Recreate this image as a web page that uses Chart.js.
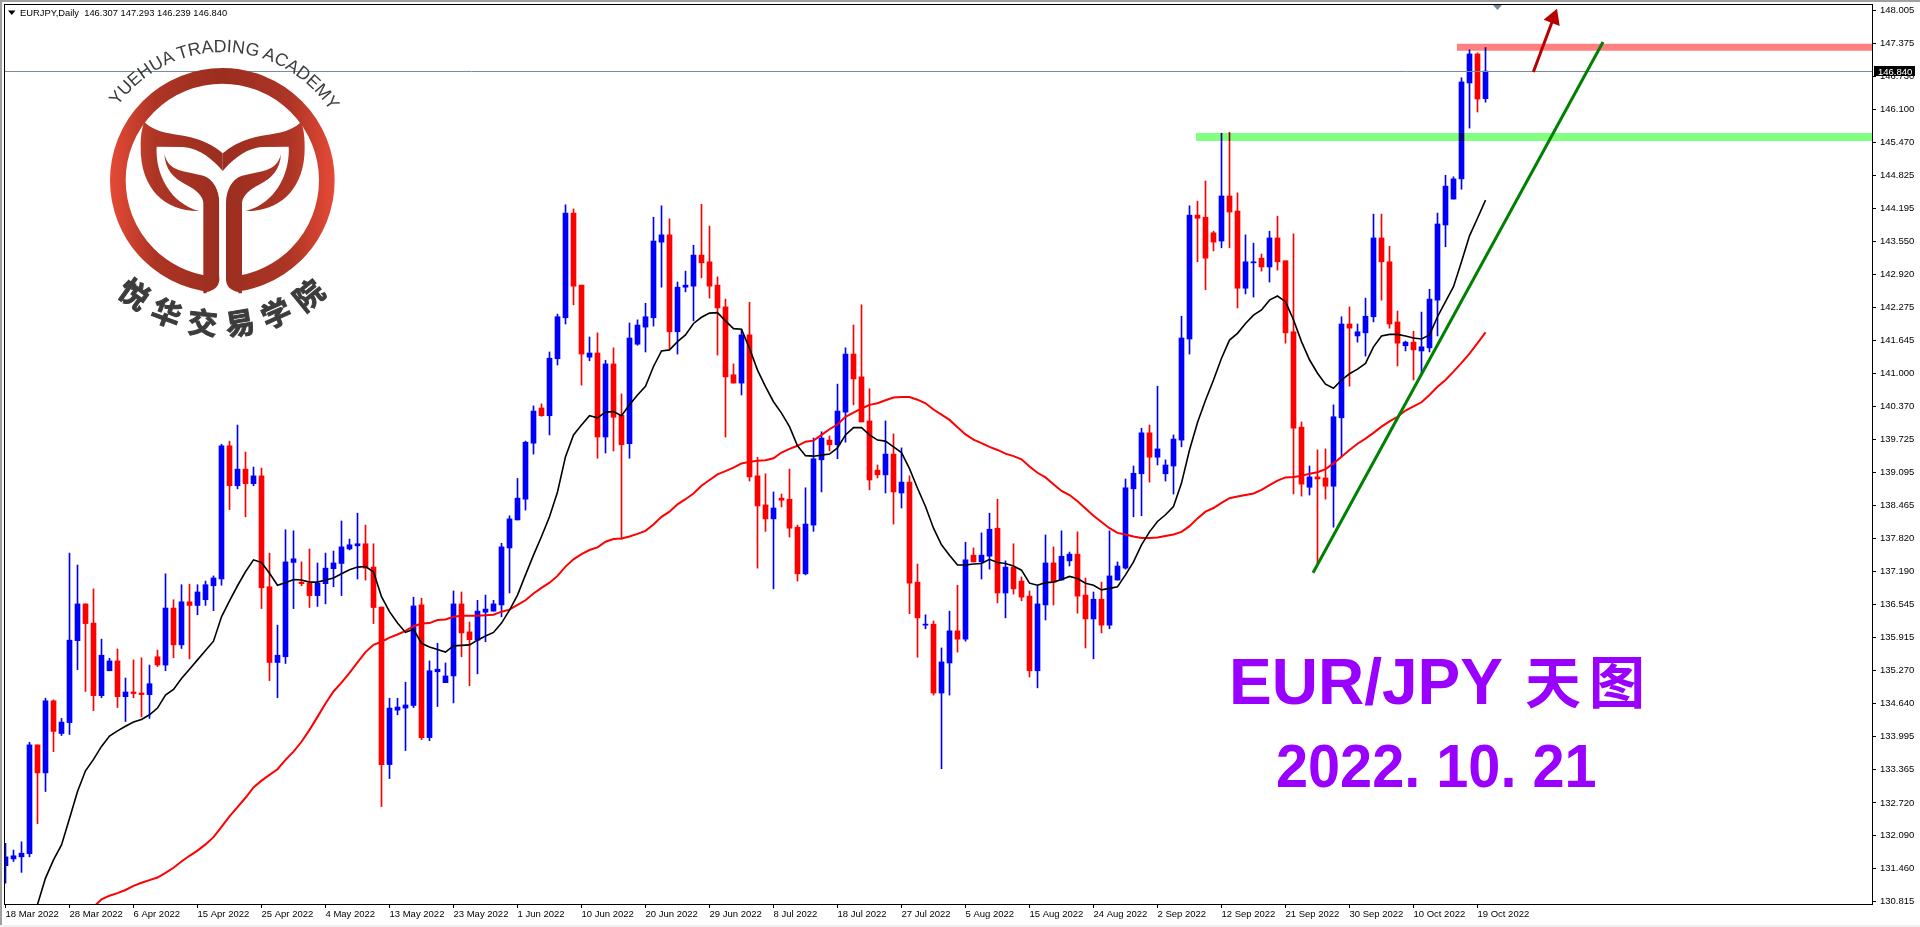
<!DOCTYPE html>
<html>
<head>
<meta charset="utf-8">
<title>EUR/JPY Daily</title>
<script src="https://cdn.jsdelivr.net/npm/chart.js@4"></script>
<style>
html, body { margin:0; padding:0; background:#fff; width:1920px; height:927px; overflow:hidden; }
#chart { position:absolute; left:0; top:0; }
#logo { position:absolute; left:0; top:0; pointer-events:none; }
.edge { position:absolute; background:#a0a0a0; }
</style>
</head>
<body>
<canvas id="chart" width="1920" height="927"></canvas>

<svg id="logo" width="1920" height="927" viewBox="0 0 5760 2781">
  <defs>
    <linearGradient id="ringFill" gradientUnits="userSpaceOnUse" x1="330" y1="0" x2="1004" y2="0">
      <stop offset="0" stop-color="#e64a36"/>
      <stop offset="0.2" stop-color="#ad3525"/>
      <stop offset="0.5" stop-color="#9b2e20"/>
      <stop offset="0.8" stop-color="#ad3525"/>
      <stop offset="1" stop-color="#e64a36"/>
    </linearGradient>
    <path id="arcTop" d="M282,541 A385,385 0 0 1 1052,541"/>
    <path id="arcBottom" d="M203,541 A464,464 0 0 0 1131,541"/>
    <g id="wing">
      <path d="M433,367 C470,400 520,402 555,408 C610,418 645,440 668,460 L668,513 C640,480 600,445 550,441 L470,440 C465,520 510,610 598,633 C500,635 420,570 422,440 C422,410 425,385 433,367 Z"/>
      <path d="M493,460 C500,500 530,512 570,518 L610,527 C640,537 658,570 658,610 L658,880 L610,880 L610,610 C610,590 590,570 560,555 C520,535 495,510 493,460 Z"/>
    </g>
  </defs>
  <circle cx="667" cy="541" r="313.5" fill="none" stroke="url(#ringFill)" stroke-width="47"/>
  <g fill="url(#ringFill)">
    <use href="#wing"/>
    <use href="#wing" transform="translate(1336,0) scale(-1,1)"/>
  </g>
  <path d="M658,600 L678,600 L678,840 C680,862 695,872 715,876 L715,900 L620,900 L620,876 C640,872 656,862 658,840 Z" fill="#fff"/>
  <text font-family="Liberation Sans" font-size="53.5" fill="#3c3c3c" text-anchor="middle"><textPath href="#arcTop" startOffset="50.75%">YUEHUA TRADING ACADEMY</textPath></text>
  <text font-family="Noto Sans CJK SC" font-weight="700" font-size="88" letter-spacing="33" fill="#3c3c3c" stroke="#3c3c3c" stroke-width="3" text-anchor="middle"><textPath href="#arcBottom" startOffset="51%">悦华交易学院</textPath></text>
</svg>

<div class="edge" style="left:0;top:0;width:2px;height:927px"></div>
<div class="edge" style="left:0;top:0;width:1920px;height:2px"></div>
<div class="edge" style="left:0;top:925px;width:1920px;height:2px;background:#f0f0f0"></div>

<script>
// candles
const opens = [
131.51,131.64,131.68,131.74,133.84,133.30,134.69,134.06,134.27,135.85,
136.56,136.19,134.79,135.27,135.46,134.77,134.86,134.84,134.81,135.54,
135.38,136.48,135.77,136.60,136.53,136.64,136.91,137.04,139.61,138.84,
139.16,138.88,139.03,136.89,135.43,135.54,137.36,136.98,136.96,136.72,
136.95,137.24,137.34,137.62,137.68,137.72,137.27,136.50,133.46,134.51,
134.55,134.60,136.54,133.98,135.25,135.04,135.17,136.56,136.02,135.86,
136.40,136.42,136.54,137.64,138.18,138.58,139.66,140.34,140.19,141.29,
142.08,144.10,142.71,141.32,141.40,139.78,141.19,140.20,139.65,141.57,
141.90,142.08,143.54,143.68,141.81,142.67,142.69,143.29,143.16,142.71,
142.29,140.98,140.82,141.75,139.03,138.47,138.20,138.60,138.58,138.04,
137.14,138.08,139.34,139.72,139.63,140.26,141.38,140.94,140.09,139.14,
139.05,139.45,138.70,138.91,136.98,136.15,136.17,134.84,135.42,136.04,
135.88,137.50,137.37,137.48,138.02,136.77,137.27,137.00,136.71,135.27,
136.54,137.35,137.02,137.39,137.52,136.73,136.27,136.65,136.15,137.02,
137.25,138.78,139.07,139.86,139.39,139.07,139.22,139.72,141.67,144.06,
144.02,143.72,143.56,144.43,144.14,142.65,143.14,143.23,143.06,143.62,
143.18,141.81,139.97,138.81,139.01,138.99,138.83,140.15,141.96,141.73,
141.79,142.10,143.62,143.16,142.00,141.54,141.61,141.44,141.50,142.42,
143.87,144.37,144.76,146.61,147.17,146.307];
const highs = [
131.94,131.81,131.97,133.89,133.84,134.74,134.71,134.35,137.54,137.31,
136.56,136.85,135.88,135.51,135.69,135.13,135.48,135.52,135.38,135.67,
137.14,136.64,136.93,136.94,136.93,137.00,137.10,139.64,139.70,140.01,
139.49,139.20,139.18,137.54,136.15,137.99,137.97,137.37,137.62,137.35,
137.54,137.58,138.16,137.81,138.31,138.08,137.72,136.50,134.74,134.74,
135.05,136.69,136.67,135.46,135.80,135.42,136.81,136.79,136.21,136.63,
136.73,136.63,137.73,138.26,138.98,139.70,140.38,140.42,141.42,142.15,
144.26,144.18,142.71,141.71,141.79,141.26,141.50,140.61,141.98,142.04,
142.36,144.02,144.24,143.99,142.77,142.98,143.48,144.27,143.85,142.87,
142.44,141.19,141.86,142.38,139.39,139.07,138.72,138.68,139.16,138.08,
138.80,139.76,139.88,139.80,140.80,141.50,141.94,142.33,140.71,139.24,
140.09,139.84,139.57,139.03,137.33,136.35,136.23,135.71,136.42,136.92,
137.75,137.64,137.93,138.31,138.58,137.39,137.72,137.08,136.81,136.92,
137.89,137.66,137.97,137.56,137.95,137.06,136.79,136.98,137.97,137.37,
138.97,139.22,139.95,140.01,140.76,139.34,139.82,142.11,144.24,144.33,
144.72,143.75,145.64,145.66,144.49,143.68,143.52,143.31,143.75,144.04,
143.18,143.70,140.07,139.22,139.53,139.55,140.40,142.10,142.29,141.96,
142.46,144.08,144.08,143.46,142.21,141.63,141.82,142.19,142.63,144.10,
144.83,144.80,146.71,147.25,147.19,147.293];
const lows = [
131.17,131.59,131.38,131.68,132.32,132.94,133.71,134.02,134.04,135.29,
134.87,134.50,134.75,135.27,134.56,134.29,134.75,134.38,134.35,135.35,
135.27,135.52,135.70,135.50,136.35,136.53,136.43,136.92,138.38,138.78,
138.24,138.84,136.47,135.08,134.75,135.41,136.47,136.91,136.49,136.51,
136.56,136.89,136.72,137.60,137.04,137.02,136.18,132.65,133.19,134.42,
133.73,134.56,133.94,133.92,134.58,135.04,134.65,135.54,134.98,135.21,
135.83,136.42,136.31,136.77,138.18,138.37,139.45,140.18,139.82,141.17,
141.96,142.33,140.78,141.25,139.37,139.47,139.51,137.81,139.37,141.55,
141.42,141.92,142.67,141.48,141.38,142.58,142.02,142.85,142.46,141.36,
139.78,140.82,140.59,138.93,137.25,137.96,136.85,138.43,137.85,137.00,
137.12,137.96,138.72,139.51,139.36,139.68,140.40,140.07,138.76,138.99,
138.70,138.10,138.41,136.37,135.53,136.08,134.80,133.38,134.80,135.63,
135.84,137.37,137.04,137.23,136.58,136.29,136.75,136.62,135.15,134.94,
136.25,136.54,137.02,137.29,136.38,135.71,135.50,136.00,136.08,137.02,
137.23,138.24,138.26,138.91,139.24,138.93,138.68,139.59,141.38,143.16,
142.62,143.37,143.43,143.43,142.27,142.54,142.48,142.98,142.77,143.00,
141.59,138.68,138.64,138.66,137.31,138.58,138.04,139.39,140.76,141.61,
141.34,142.00,142.42,141.88,141.15,141.44,140.88,140.98,141.42,141.73,
143.45,144.37,144.56,145.74,146.05,146.239];
const closes = [
131.68,131.70,131.75,133.84,133.30,134.69,134.10,134.28,135.86,136.56,
136.18,134.79,135.57,135.46,134.77,134.86,134.83,134.81,135.02,135.38,
136.48,135.77,136.60,136.53,136.79,136.93,137.06,139.61,138.84,139.16,
138.88,139.03,136.87,135.43,135.57,137.37,137.43,136.95,136.72,136.96,
137.25,137.35,137.66,137.70,137.72,137.25,136.49,133.46,134.55,134.57,
134.61,136.52,133.98,135.27,135.30,135.17,136.56,136.00,135.87,136.42,
136.46,136.56,137.66,138.20,138.60,139.68,140.28,140.19,141.30,142.10,
144.10,142.69,141.38,141.40,139.78,141.19,140.16,139.63,141.69,141.94,
142.10,143.56,143.68,141.81,142.67,142.71,143.29,143.14,142.69,142.27,
140.94,140.82,141.75,139.01,138.45,138.20,138.41,138.56,138.02,137.14,
138.10,139.36,139.76,139.63,140.28,141.38,140.90,140.07,138.95,139.05,
139.45,138.72,138.91,136.96,136.29,136.17,134.84,135.44,136.04,135.88,
137.41,137.37,137.50,138.00,136.77,137.27,136.85,136.69,135.27,136.56,
137.35,136.98,137.48,137.52,136.71,136.27,136.65,136.15,137.10,137.29,
138.80,139.08,139.86,139.39,139.55,139.24,139.74,141.69,144.06,144.00,
143.23,143.54,144.43,144.12,142.65,143.16,143.16,143.06,143.62,143.16,
141.79,139.95,138.87,139.01,138.97,138.83,140.17,141.96,141.88,141.81,
142.11,143.62,143.16,141.96,141.59,141.61,141.46,141.52,142.44,143.89,
144.62,144.76,146.63,147.17,146.30,146.840];

// moving averages, one reading per candle, null where off the chart
const maFast = [
null,null,null,130.33,130.76,131.27,131.62,131.91,132.42,132.94,
133.34,133.56,133.81,134.01,134.11,134.20,134.28,134.33,134.42,134.55,
134.80,134.91,135.12,135.30,135.48,135.66,135.84,136.31,136.62,136.91,
137.18,137.41,137.36,137.15,136.92,136.97,137.03,137.02,136.98,136.98,
137.02,137.06,137.14,137.22,137.27,137.28,137.18,136.70,136.41,136.19,
136.01,136.07,135.80,135.73,135.68,135.63,135.75,135.76,135.77,135.86,
135.94,136.01,136.19,136.44,136.73,137.12,137.50,137.86,138.24,138.72,
139.40,139.82,140.01,140.19,140.15,140.26,140.27,140.19,140.40,140.59,
140.76,141.14,141.44,141.46,141.62,141.75,141.97,142.09,142.17,142.18,
142.02,141.87,141.86,141.49,141.07,140.75,140.46,140.24,139.98,139.61,
139.42,139.41,139.43,139.45,139.57,139.82,139.96,139.96,139.82,139.72,
139.70,139.59,139.48,139.17,138.79,138.44,138.02,137.70,137.50,137.31,
137.31,137.33,137.34,137.42,137.36,137.34,137.29,137.21,136.96,136.92,
136.97,136.98,137.03,137.09,137.05,136.96,136.92,136.83,136.86,136.89,
137.12,137.37,137.70,137.95,138.15,138.28,138.44,138.89,139.53,140.06,
140.49,140.88,141.30,141.65,141.78,141.97,142.13,142.23,142.42,142.50,
142.39,142.04,141.62,141.27,141.01,140.80,140.72,140.88,141.00,141.09,
141.20,141.52,141.73,141.76,141.76,141.73,141.69,141.67,141.75,142.10,
142.39,142.68,143.16,143.66,144.00,144.35];
const maSlow = [
null,null,null,null,null,null,null,null,null,null,
null,130.71,130.86,130.93,130.98,131.04,131.12,131.18,131.23,131.28,
131.37,131.47,131.59,131.70,131.80,131.92,132.06,132.26,132.46,132.64,
132.82,133.02,133.15,133.26,133.37,133.55,133.71,133.90,134.13,134.38,
134.64,134.87,135.04,135.23,135.43,135.63,135.77,135.83,135.91,135.97,
136.04,136.13,136.18,136.19,136.25,136.26,136.31,136.33,136.33,136.33,
136.34,136.35,136.41,136.45,136.54,136.63,136.76,136.87,136.97,137.10,
137.28,137.42,137.52,137.60,137.65,137.76,137.81,137.82,137.86,137.91,
137.97,138.09,138.24,138.34,138.48,138.58,138.69,138.84,138.95,139.06,
139.12,139.19,139.27,139.30,139.32,139.33,139.37,139.48,139.55,139.61,
139.69,139.71,139.82,139.93,140.02,140.17,140.25,140.33,140.40,140.43,
140.49,140.54,140.55,140.55,140.50,140.43,140.31,140.21,140.11,139.97,
139.83,139.73,139.66,139.59,139.53,139.46,139.41,139.35,139.21,139.09,
139.00,138.87,138.74,138.66,138.54,138.40,138.26,138.14,138.02,137.93,
137.90,137.86,137.83,137.83,137.84,137.87,137.90,137.95,138.06,138.21,
138.34,138.41,138.51,138.60,138.63,138.66,138.69,138.76,138.85,138.94,
139.00,139.01,139.03,139.07,139.10,139.16,139.27,139.40,139.53,139.65,
139.75,139.86,139.98,140.08,140.17,140.29,140.37,140.45,140.59,140.75,
140.88,141.04,141.21,141.39,141.59,141.80];

const tickDates = ["18 Mar 2022","28 Mar 2022","6 Apr 2022","15 Apr 2022","25 Apr 2022","4 May 2022",
  "13 May 2022","23 May 2022","1 Jun 2022","10 Jun 2022","20 Jun 2022","29 Jun 2022","8 Jul 2022",
  "18 Jul 2022","27 Jul 2022","5 Aug 2022","15 Aug 2022","24 Aug 2022","2 Sep 2022","12 Sep 2022",
  "21 Sep 2022","30 Sep 2022","10 Oct 2022","19 Oct 2022"];
const priceTicks = [148.005,147.375,146.73,146.1,145.47,144.825,144.195,143.55,142.92,142.275,141.645,141,
  140.37,139.725,139.095,138.465,137.82,137.19,136.545,135.915,135.27,134.64,133.995,133.365,132.72,132.09,131.46,130.815];

// drawn objects, candle index / price
const resistBand = [[181.44,147.30],[234,147.30]];
const supportBand = [[148.81,145.57],[234,145.57]];
const trendLine = [[163.44,137.16],[199.69,147.40]];
const arrowLine = [[190.98,146.82],[193.49,147.86]];
const bidLine = [[-1,146.832],[234,146.832]];
const lastPrice = "146.840";
const headerText = "EURJPY,Daily  146.307 147.293 146.239 146.840";

const asPoints = list => list.map(p => ({x:p[0], y:p[1]}));
const BLUE = "#0000ff", RED = "#ff0000";
const candleColor = c => closes[c.dataIndex] >= opens[c.dataIndex] ? BLUE : RED;
const UI_FONT = '"Liberation Sans", Arial, sans-serif';

function level(data, color, width, order, extra) {
  return Object.assign({
    type:"line", data:asPoints(data), borderColor:color, backgroundColor:color,
    borderWidth:width, pointRadius:0, tension:0, fill:false, order:order, borderCapStyle:"butt"
  }, extra || {});
}

// multiply blend for the two zones, the candles show through them
const blendPlugin = {
  id:"blend",
  beforeDatasetDraw(chart, args) {
    if (chart.data.datasets[args.index].multiply) {
      chart.ctx.save();
      chart.ctx.globalCompositeOperation = "multiply";
    }
  },
  afterDatasetDraw(chart, args) {
    if (chart.data.datasets[args.index].multiply) chart.ctx.restore();
  }
};

// frame, header, price label and the big caption
const overlayPlugin = {
  id:"overlay",
  afterDraw(chart) {
    const ctx = chart.ctx;
    ctx.save();
    ctx.strokeStyle = "#000";
    ctx.lineWidth = 1;
    ctx.strokeRect(4.5, 4.5, 1868, 900);

    // chart shift marker
    ctx.fillStyle = "#778899";
    ctx.beginPath();
    ctx.moveTo(1493, 5); ctx.lineTo(1502, 5); ctx.lineTo(1497.5, 10);
    ctx.fill();

    // header
    ctx.fillStyle = "#000";
    ctx.beginPath();
    ctx.moveTo(8, 10.5); ctx.lineTo(15.5, 10.5); ctx.lineTo(11.8, 15);
    ctx.fill();
    ctx.font = "9.35px " + UI_FONT;
    ctx.textBaseline = "alphabetic";
    ctx.textAlign = "left";
    ctx.fillText(headerText, 20, 16);

    // current price
    ctx.fillStyle = "#000";
    ctx.fillRect(1874, 66, 41, 10);
    ctx.fillStyle = "#fff";
    ctx.font = "9.5px " + UI_FONT;
    ctx.fillText(lastPrice, 1878, 75);

    // caption
    ctx.fillStyle = "#9900ff";
    ctx.font = "bold 64px " + UI_FONT;
    ctx.fillText("EUR/JPY", 1229, 704);
    ctx.font = 'bold 56px "Noto Sans CJK SC"';
    ctx.fillText("天", 1525, 703);
    ctx.fillText("图", 1589, 703);
    ctx.save();
    ctx.translate(1276, 787);
    ctx.scale(0.945, 1);
    ctx.font = "bold 61px " + UI_FONT;
    ctx.fillText("2022. 10. 21", 0, 0);
    ctx.restore();
    ctx.restore();
  }
};

new Chart(document.getElementById("chart"), {
  data:{
    datasets:[
      { type:"bar", data:highs.map((h,i) => ({x:i, y:[lows[i], h]})), backgroundColor:candleColor,
        barThickness:1, grouped:false, order:9 },
      { type:"bar", data:opens.map((o,i) => ({x:i, y:[o, closes[i]]})), backgroundColor:candleColor,
        barThickness:5, grouped:false, order:8 },
      level(bidLine, "#778899", 1, 7),
      level(maSlow.map((v,i) => [i,v]), RED, 2, 6, {spanGaps:false}),
      level(maFast.map((v,i) => [i,v]), "#000", 1.6, 5, {spanGaps:false}),
      level(supportBand, "#80ff80", 8, 3, {multiply:true}),
      level(resistBand, "#ff8080", 7, 3, {multiply:true}),
      level(trendLine, "#008000", 3, 2),
      level(arrowLine, "#b80000", 3, 1, {pointRadius:[0,10], pointStyle:"triangle", pointRotation:20.9,
        pointBorderWidth:0, pointBackgroundColor:"#b80000"})
    ]
  },
  options:{
    responsive:false,
    animation:false,
    devicePixelRatio:1,
    layout:{ autoPadding:false, padding:{left:5, top:5, right:0, bottom:0} },
    plugins:{ legend:{display:false}, tooltip:{enabled:false} },
    events:[],
    scales:{
      x:{
        type:"linear", min:-0.0625, max:233.4375, offset:false,
        grid:{drawOnChartArea:false, tickLength:4, color:"#000", offset:false},
        border:{display:false},
        afterBuildTicks(s) { s.ticks = tickDates.map((d,i) => ({value:i*8})); },
        afterFit(s) { s.height = 23; s.paddingLeft = 0; s.paddingRight = 0; },
        ticks:{ autoSkip:false, maxRotation:0, align:"start", padding:1, color:"#000",
          font:{family:UI_FONT, size:9.5},
          callback:v => tickDates[v/8] }
      },
      y:{
        type:"linear", position:"right", min:130.770, max:148.1145,
        grid:{drawOnChartArea:false, tickLength:3, color:"#000"},
        border:{display:false},
        afterBuildTicks(s) { s.ticks = priceTicks.map(v => ({value:v})); },
        afterFit(s) { s.width = 47; s.paddingTop = 0; s.paddingBottom = 0; },
        ticks:{ autoSkip:false, padding:4, color:"#000",
          font:{family:UI_FONT, size:9.5},
          callback:v => v.toFixed(3) }
      }
    }
  },
  plugins:[blendPlugin, overlayPlugin]
});
</script>
</body>
</html>
